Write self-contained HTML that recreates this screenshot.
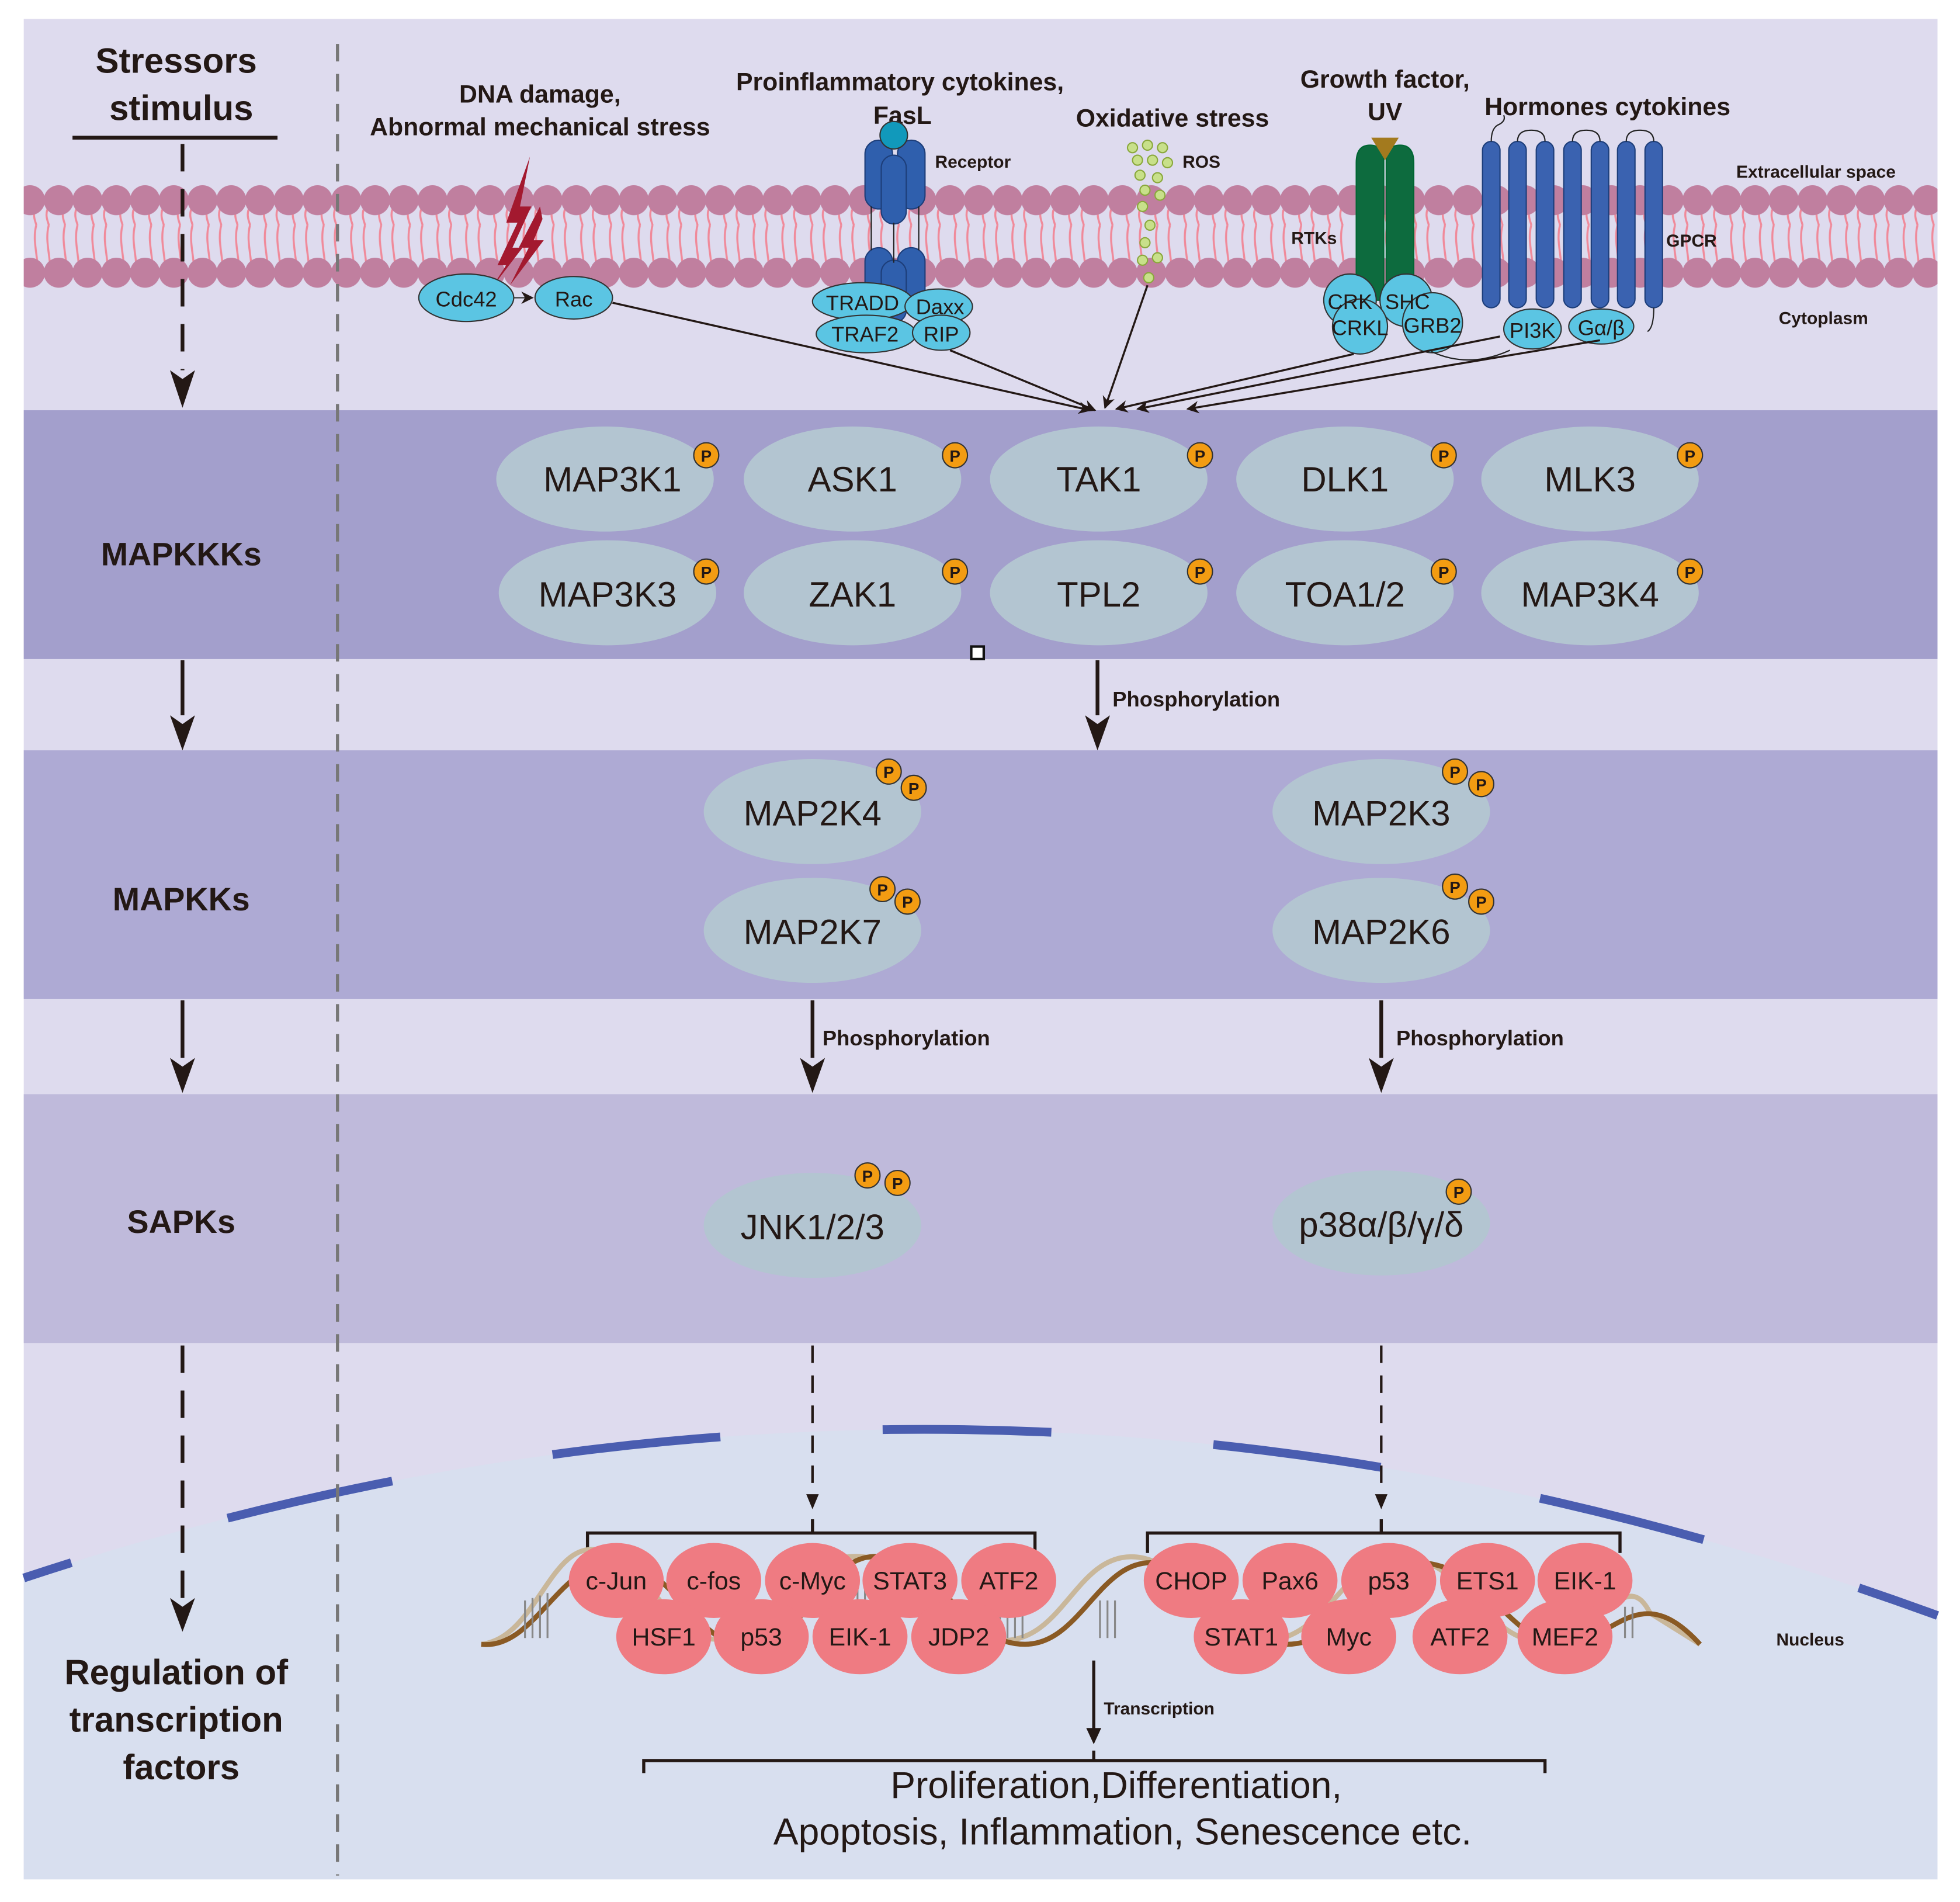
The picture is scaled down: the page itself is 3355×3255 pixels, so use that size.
<!DOCTYPE html>
<html><head><meta charset="utf-8"><style>
html,body{margin:0;padding:0;background:#fff}
svg{display:block}
text{font-family:"Liberation Sans",Arial,sans-serif;fill:#231815}
.b{font-weight:bold}
.pc{fill:#f39c12;stroke:#333;stroke-width:1}
.pt{font-size:13px;font-weight:bold;text-anchor:middle}
</style></head><body>
<svg width="3355" height="3255" viewBox="0 0 1568 1521" xmlns="http://www.w3.org/2000/svg">
<defs>
<marker id="ah" markerWidth="10" markerHeight="10" refX="9" refY="5" orient="auto" markerUnits="userSpaceOnUse"><path d="M0,0 L10,5 L0,10 L3,5 z" fill="#231815"/></marker>
<pattern id="tails" x="0" y="0" width="23" height="60" patternUnits="userSpaceOnUse">
<path d="M6,0 C2,15 10,30 6,45 C2,52 6,58 6,60 M16,0 C12,15 20,30 16,45 C12,52 16,58 16,60" stroke="#f08a9a" stroke-width="1.6" fill="none"/>
</pattern>
<pattern id="headsP" x="12.5" y="148" width="23" height="24" patternUnits="userSpaceOnUse">
<circle cx="11.5" cy="12" r="12" fill="#c07f9f"/>
</pattern>
<pattern id="headsP2" x="12.5" y="206" width="23" height="24" patternUnits="userSpaceOnUse">
<circle cx="11.5" cy="12" r="12" fill="#c07f9f"/>
</pattern>
</defs>
<rect x="0" y="0" width="1568" height="1521" fill="#fff"/>
<rect x="19" y="15" width="1531" height="1488" fill="#dedbee"/>
<rect x="19" y="328" width="1531" height="199" fill="#a39fcc"/>
<rect x="19" y="600" width="1531" height="199" fill="#aeaad4"/>
<rect x="19" y="875" width="1531" height="199" fill="#bfbadb"/>
<path d="M19,1262 Q780,1010 1550,1292 L1550,1503 L19,1503 Z" fill="#d8dfef"/>
<path d="M19,1262 Q780,1010 1550,1292" fill="none" stroke="#4a5db0" stroke-width="7" stroke-dasharray="135,130" stroke-dashoffset="95"/>
<rect x="19" y="166" width="1531" height="50" fill="url(#tails)"/>
<rect x="19" y="148" width="1531" height="24" fill="url(#headsP)"/>
<rect x="19" y="206" width="1531" height="24" fill="url(#headsP2)"/>
<line x1="270" y1="35" x2="270" y2="1500" stroke="#777" stroke-width="2.5" stroke-dasharray="14,10"/>
<text x="141" y="58" class="b" font-size="28" text-anchor="middle">Stressors</text>
<text x="145" y="96" class="b" font-size="28" text-anchor="middle">stimulus</text>
<line x1="58" y1="110" x2="222" y2="110" stroke="#231815" stroke-width="3"/>
<line x1="146" y1="115" x2="146" y2="296" stroke="#231815" stroke-width="3" stroke-dasharray="22,14"/>
<path d="M136,296 L146,326 L156,296 L146,303 z" fill="#231815"/>
<text x="145" y="452" class="b" font-size="26" text-anchor="middle">MAPKKKs</text>
<line x1="146" y1="528" x2="146" y2="572" stroke="#231815" stroke-width="3"/>
<path d="M136,572 L146,600 L156,572 L146,579 z" fill="#231815"/>
<text x="145" y="728" class="b" font-size="26" text-anchor="middle">MAPKKs</text>
<line x1="146" y1="800" x2="146" y2="846" stroke="#231815" stroke-width="3"/>
<path d="M136,846 L146,874 L156,846 L146,853 z" fill="#231815"/>
<text x="145" y="986" class="b" font-size="26" text-anchor="middle">SAPKs</text>
<line x1="146" y1="1076" x2="146" y2="1278" stroke="#231815" stroke-width="3" stroke-dasharray="22,14"/>
<path d="M136,1278 L146,1305 L156,1278 L146,1285 z" fill="#231815"/>
<text x="141" y="1347" class="b" font-size="28" text-anchor="middle">Regulation of</text>
<text x="141" y="1385" class="b" font-size="28" text-anchor="middle">transcription</text>
<text x="145" y="1423" class="b" font-size="28" text-anchor="middle">factors</text>
<text x="432" y="82" class="b" font-size="20" text-anchor="middle">DNA damage,</text>
<text x="432" y="108" class="b" font-size="20" text-anchor="middle">Abnormal mechanical stress</text>
<text x="720" y="72" class="b" font-size="20" text-anchor="middle">Proinflammatory cytokines,</text>
<text x="722" y="99" class="b" font-size="20" text-anchor="middle">FasL</text>
<text x="938" y="101" class="b" font-size="20" text-anchor="middle">Oxidative stress</text>
<text x="1108" y="70" class="b" font-size="20" text-anchor="middle">Growth factor,</text>
<text x="1108" y="96" class="b" font-size="20" text-anchor="middle">UV</text>
<text x="1286" y="92" class="b" font-size="20" text-anchor="middle">Hormones cytokines</text>
<text x="748" y="134" class="b" font-size="14">Receptor</text>
<text x="946" y="134" class="b" font-size="14">ROS</text>
<text x="1033" y="195" class="b" font-size="14">RTKs</text>
<text x="1333" y="197" class="b" font-size="14">GPCR</text>
<text x="1389" y="142" class="b" font-size="14">Extracellular space</text>
<text x="1423" y="259" class="b" font-size="14">Cytoplasm</text>
<text x="1421" y="1316" class="b" font-size="14">Nucleus</text>
<g fill="#a3192f">
<path d="M424,125 L405,178 L414,178 L398,212 L405,212 L392,232 L418,198 L410,198 L425,165 L416,165 Z"/>
<path d="M432,165 L415,198 L423,198 L408,228 L435,192 L427,192 L434,175 Z"/>
</g>
<ellipse cx="373" cy="238" rx="38" ry="19" fill="#5bc5e3" stroke="#333" stroke-width="1"/>
<text x="373" y="245" font-size="17" text-anchor="middle">Cdc42</text>
<line x1="411" y1="238" x2="426" y2="238" stroke="#333" stroke-width="1" marker-end="url(#ah)"/>
<ellipse cx="459" cy="238" rx="31" ry="17" fill="#5bc5e3" stroke="#333" stroke-width="1"/>
<text x="459" y="245" font-size="17" text-anchor="middle">Rac</text>
<g fill="#2f5fad" stroke="#1d3e7a" stroke-width="1">
<rect x="692" y="112" width="22" height="55" rx="11"/>
<rect x="718" y="112" width="22" height="55" rx="11"/>
<rect x="705" y="124" width="20" height="55" rx="10"/>
<rect x="692" y="198" width="22" height="50" rx="11"/>
<rect x="718" y="198" width="22" height="50" rx="11"/>
<rect x="705" y="208" width="20" height="50" rx="10"/>
</g>
<line x1="697" y1="165" x2="697" y2="200" stroke="#222"/><line x1="715" y1="178" x2="715" y2="210" stroke="#222"/><line x1="735" y1="165" x2="735" y2="200" stroke="#222"/>
<circle cx="715" cy="108" r="11" fill="#1199bb" stroke="#333" stroke-width="1"/>
<g fill="#5bc5e3" stroke="#333" stroke-width="1">
<ellipse cx="690" cy="241" rx="40" ry="15"/>
<ellipse cx="751" cy="245" rx="27" ry="14"/>
<ellipse cx="693" cy="267" rx="40" ry="15"/>
<ellipse cx="753" cy="266" rx="23" ry="14"/>
</g>
<text x="690" y="248" font-size="17" text-anchor="middle">TRADD</text>
<text x="752" y="251" font-size="17" text-anchor="middle">Daxx</text>
<text x="692" y="273" font-size="17" text-anchor="middle">TRAF2</text>
<text x="753" y="273" font-size="17" text-anchor="middle">RIP</text>
<g fill="#c8e08a" stroke="#8aa83c" stroke-width="1">
<circle cx="906" cy="118" r="4"/><circle cx="918" cy="116" r="4"/><circle cx="930" cy="118" r="4"/>
<circle cx="910" cy="128" r="4"/><circle cx="922" cy="128" r="4"/><circle cx="934" cy="130" r="4"/>
<circle cx="912" cy="140" r="4"/><circle cx="926" cy="142" r="4"/><circle cx="916" cy="152" r="4"/><circle cx="928" cy="156" r="4"/>
<circle cx="914" cy="165" r="4"/><circle cx="920" cy="180" r="4"/><circle cx="916" cy="194" r="4"/><circle cx="926" cy="206" r="4"/><circle cx="914" cy="208" r="4"/><circle cx="919" cy="222" r="4"/>
</g>
<path d="M1085,130 Q1085,116 1096,116 Q1106,116 1107,126 L1107,240 L1085,240 Z" fill="#0d6b3e" stroke="#063" stroke-width="1"/>
<path d="M1109,126 Q1110,116 1120,116 Q1131,116 1131,130 L1131,240 L1109,240 Z" fill="#0d6b3e" stroke="#063" stroke-width="1"/>
<path d="M1097,110 L1119,110 L1108,128 Z" fill="#a37a1e"/>
<g fill="#5bc5e3" stroke="#333" stroke-width="1">
<circle cx="1080" cy="240" r="21"/><circle cx="1125" cy="240" r="21"/><circle cx="1088" cy="261" r="22"/><circle cx="1146" cy="258" r="24"/>
</g>
<text x="1080" y="247" font-size="17" text-anchor="middle">CRK</text>
<text x="1126" y="247" font-size="17" text-anchor="middle">SHC</text>
<text x="1088" y="268" font-size="17" text-anchor="middle">CRKL</text>
<text x="1146" y="266" font-size="17" text-anchor="middle">GRB2</text>
<g fill="#3a62b0" stroke="#1d3e7a" stroke-width="1">
<rect x="1186" y="113" width="14" height="133" rx="7"/>
<rect x="1207" y="113" width="14" height="133" rx="7"/>
<rect x="1229" y="113" width="14" height="133" rx="7"/>
<rect x="1251" y="113" width="14" height="133" rx="7"/>
<rect x="1273" y="113" width="14" height="133" rx="7"/>
<rect x="1294" y="113" width="14" height="133" rx="7"/>
<rect x="1316" y="113" width="14" height="133" rx="7"/>
</g>
<g fill="none" stroke="#222" stroke-width="1">
<path d="M1193,113 Q1193,103 1198,100 Q1205,97 1203,92"/>
<path d="M1214,113 Q1214,104 1225,104 Q1236,104 1236,113"/>
<path d="M1258,113 Q1258,104 1269,104 Q1280,104 1280,113"/>
<path d="M1301,113 Q1301,104 1312,104 Q1323,104 1323,113"/>
<path d="M1323,246 Q1323,262 1318,265"/>
<path d="M1145,281 Q1175,295 1208,280"/>
</g>
<g fill="#5bc5e3" stroke="#333" stroke-width="1">
<ellipse cx="1226" cy="263" rx="23" ry="16"/><ellipse cx="1281" cy="261" rx="26" ry="14"/>
</g>
<text x="1226" y="270" font-size="17" text-anchor="middle">PI3K</text>
<text x="1281" y="268" font-size="17" text-anchor="middle">Gα/β</text>
<g stroke="#231815" stroke-width="1.6" marker-end="url(#ah)">
<line x1="490" y1="242" x2="872" y2="328"/>
<line x1="760" y1="280" x2="876" y2="328"/>
<line x1="918" y1="228" x2="884" y2="326"/>
<line x1="1083" y1="283" x2="893" y2="327"/>
<line x1="1200" y1="269" x2="910" y2="327"/>
<line x1="1280" y1="272" x2="950" y2="327"/>
</g>
<g fill="#b3c5d1">
<ellipse cx="484" cy="383" rx="87" ry="42"/><ellipse cx="682" cy="383" rx="87" ry="42"/><ellipse cx="879" cy="383" rx="87" ry="42"/><ellipse cx="1076" cy="383" rx="87" ry="42"/><ellipse cx="1272" cy="383" rx="87" ry="42"/>
<ellipse cx="486" cy="474" rx="87" ry="42"/><ellipse cx="682" cy="474" rx="87" ry="42"/><ellipse cx="879" cy="474" rx="87" ry="42"/><ellipse cx="1076" cy="474" rx="87" ry="42"/><ellipse cx="1272" cy="474" rx="87" ry="42"/>
</g>
<g font-size="28" text-anchor="middle">
<text x="490" y="393">MAP3K1</text><text x="682" y="393">ASK1</text><text x="879" y="393">TAK1</text><text x="1076" y="393">DLK1</text><text x="1272" y="393">MLK3</text>
<text x="486" y="485">MAP3K3</text><text x="682" y="485">ZAK1</text><text x="879" y="485">TPL2</text><text x="1076" y="485">TOA1/2</text><text x="1272" y="485">MAP3K4</text>
</g>
<rect x="777" y="517" width="10" height="10" fill="#fff" stroke="#111" stroke-width="2"/>
<line x1="878" y1="528" x2="878" y2="572" stroke="#231815" stroke-width="3"/>
<path d="M868,572 L878,600 L888,572 L878,579 z" fill="#231815"/>
<text x="890" y="565" class="b" font-size="17">Phosphorylation</text>
<g fill="#b3c5d1">
<ellipse cx="650" cy="649" rx="87" ry="42"/><ellipse cx="650" cy="744" rx="87" ry="42"/><ellipse cx="1105" cy="649" rx="87" ry="42"/><ellipse cx="1105" cy="744" rx="87" ry="42"/>
<ellipse cx="650" cy="980" rx="87" ry="42"/><ellipse cx="1105" cy="978" rx="87" ry="42"/>
</g>
<g font-size="28" text-anchor="middle">
<text x="650" y="660">MAP2K4</text><text x="650" y="755">MAP2K7</text><text x="1105" y="660">MAP2K3</text><text x="1105" y="755">MAP2K6</text>
<text x="650" y="991">JNK1/2/3</text><text x="1105" y="989">p38α/β/γ/δ</text>
</g>
<g>
<circle class="pc" cx="565" cy="364" r="10"/><text class="pt" x="565" y="369">P</text>
<circle class="pc" cx="764" cy="364" r="10"/><text class="pt" x="764" y="369">P</text>
<circle class="pc" cx="960" cy="364" r="10"/><text class="pt" x="960" y="369">P</text>
<circle class="pc" cx="1155" cy="364" r="10"/><text class="pt" x="1155" y="369">P</text>
<circle class="pc" cx="1352" cy="364" r="10"/><text class="pt" x="1352" y="369">P</text>
<circle class="pc" cx="565" cy="457" r="10"/><text class="pt" x="565" y="462">P</text>
<circle class="pc" cx="764" cy="457" r="10"/><text class="pt" x="764" y="462">P</text>
<circle class="pc" cx="960" cy="457" r="10"/><text class="pt" x="960" y="462">P</text>
<circle class="pc" cx="1155" cy="457" r="10"/><text class="pt" x="1155" y="462">P</text>
<circle class="pc" cx="1352" cy="457" r="10"/><text class="pt" x="1352" y="462">P</text>
<circle class="pc" cx="711" cy="617" r="10"/><text class="pt" x="711" y="622">P</text>
<circle class="pc" cx="731" cy="630" r="10"/><text class="pt" x="731" y="635">P</text>
<circle class="pc" cx="1164" cy="617" r="10"/><text class="pt" x="1164" y="622">P</text>
<circle class="pc" cx="1185" cy="627" r="10"/><text class="pt" x="1185" y="632">P</text>
<circle class="pc" cx="706" cy="711" r="10"/><text class="pt" x="706" y="716">P</text>
<circle class="pc" cx="726" cy="721" r="10"/><text class="pt" x="726" y="726">P</text>
<circle class="pc" cx="1164" cy="709" r="10"/><text class="pt" x="1164" y="714">P</text>
<circle class="pc" cx="1185" cy="721" r="10"/><text class="pt" x="1185" y="726">P</text>
<circle class="pc" cx="694" cy="940" r="10"/><text class="pt" x="694" y="945">P</text>
<circle class="pc" cx="718" cy="946" r="10"/><text class="pt" x="718" y="951">P</text>
<circle class="pc" cx="1167" cy="953" r="10"/><text class="pt" x="1167" y="958">P</text>
</g>
<line x1="650" y1="800" x2="650" y2="846" stroke="#231815" stroke-width="3"/>
<path d="M640,846 L650,874 L660,846 L650,853 z" fill="#231815"/>
<text x="658" y="836" class="b" font-size="17">Phosphorylation</text>
<line x1="1105" y1="800" x2="1105" y2="846" stroke="#231815" stroke-width="3"/>
<path d="M1095,846 L1105,874 L1115,846 L1105,853 z" fill="#231815"/>
<text x="1117" y="836" class="b" font-size="17">Phosphorylation</text>
<line x1="650" y1="1076" x2="650" y2="1195" stroke="#231815" stroke-width="2" stroke-dasharray="14,10"/>
<path d="M645,1195 L650,1207 L655,1195 z" fill="#231815"/>
<line x1="1105" y1="1076" x2="1105" y2="1195" stroke="#231815" stroke-width="2" stroke-dasharray="14,10"/>
<path d="M1100,1195 L1105,1207 L1110,1195 z" fill="#231815"/>
<g fill="none" stroke="#231815" stroke-width="2.5">
<path d="M470,1240 L470,1226 L828,1226 L828,1240 M650,1226 L650,1215"/>
<path d="M918,1242 L918,1226 L1296,1226 L1296,1242 M1105,1226 L1105,1215"/>
<path d="M515,1418 L515,1408 L1236,1408 L1236,1418 M875,1408 L875,1400"/>
</g>
<g fill="none" stroke-width="4">
<path d="M385,1315 C430,1310 440,1230 480,1240 C520,1250 540,1320 580,1310 C620,1300 640,1240 690,1245 C740,1250 760,1310 800,1312 C850,1314 860,1245 905,1245 C950,1245 965,1310 1010,1312 C1060,1314 1075,1245 1120,1245 C1170,1245 1190,1312 1230,1312 C1280,1312 1300,1250 1320,1290 L1360,1315" stroke="#c9b79a"/>
<path d="M385,1315 C430,1320 450,1240 500,1250 C545,1260 560,1320 600,1315 C650,1310 660,1240 705,1245 C755,1250 770,1315 820,1315 C865,1315 880,1245 925,1250 C970,1255 985,1315 1030,1315 C1080,1315 1090,1245 1140,1250 C1190,1255 1210,1315 1250,1315 C1290,1315 1310,1260 1360,1315" stroke="#8a5a24"/>
</g>
<g stroke="#888" stroke-width="1.5">
<path d="M420,1280 v30 M426,1278 v32 M432,1276 v34 M438,1274 v36 M680,1270 v40 M686,1270 v40 M692,1270 v40 M800,1280 v30 M806,1280 v30 M812,1280 v30 M818,1280 v30 M880,1280 v30 M886,1280 v30 M892,1280 v30 M1190,1280 v30 M1196,1280 v30 M1300,1285 v25 M1306,1285 v25"/>
</g>
<g fill="#ef7b82">
<ellipse cx="493" cy="1264" rx="38" ry="30"/><ellipse cx="571" cy="1264" rx="38" ry="30"/><ellipse cx="650" cy="1264" rx="38" ry="30"/><ellipse cx="728" cy="1264" rx="38" ry="30"/><ellipse cx="807" cy="1264" rx="38" ry="30"/>
<ellipse cx="531" cy="1309" rx="38" ry="30"/><ellipse cx="609" cy="1309" rx="38" ry="30"/><ellipse cx="688" cy="1309" rx="38" ry="30"/><ellipse cx="767" cy="1309" rx="38" ry="30"/>
<ellipse cx="953" cy="1264" rx="38" ry="30"/><ellipse cx="1032" cy="1264" rx="38" ry="30"/><ellipse cx="1111" cy="1264" rx="38" ry="30"/><ellipse cx="1190" cy="1264" rx="38" ry="30"/><ellipse cx="1268" cy="1264" rx="38" ry="30"/>
<ellipse cx="993" cy="1309" rx="38" ry="30"/><ellipse cx="1079" cy="1309" rx="38" ry="30"/><ellipse cx="1168" cy="1309" rx="38" ry="30"/><ellipse cx="1252" cy="1309" rx="38" ry="30"/>
</g>
<g font-size="20" text-anchor="middle">
<text x="493" y="1271">c-Jun</text><text x="571" y="1271">c-fos</text><text x="650" y="1271">c-Myc</text><text x="728" y="1271">STAT3</text><text x="807" y="1271">ATF2</text>
<text x="531" y="1316">HSF1</text><text x="609" y="1316">p53</text><text x="688" y="1316">EIK-1</text><text x="767" y="1316">JDP2</text>
<text x="953" y="1271">CHOP</text><text x="1032" y="1271">Pax6</text><text x="1111" y="1271">p53</text><text x="1190" y="1271">ETS1</text><text x="1268" y="1271">EIK-1</text>
<text x="993" y="1316">STAT1</text><text x="1079" y="1316">Myc</text><text x="1168" y="1316">ATF2</text><text x="1252" y="1316">MEF2</text>
</g>
<line x1="875" y1="1328" x2="875" y2="1384" stroke="#231815" stroke-width="2.5"/>
<path d="M869,1382 L875,1395 L881,1382 z" fill="#231815"/>
<text x="883" y="1371" class="b" font-size="14">Transcription</text>
<text x="893" y="1438" font-size="30" text-anchor="middle">Proliferation,Differentiation,</text>
<text x="898" y="1475" font-size="30" text-anchor="middle">Apoptosis, Inflammation, Senescence etc.</text>
</svg>
</body></html>
